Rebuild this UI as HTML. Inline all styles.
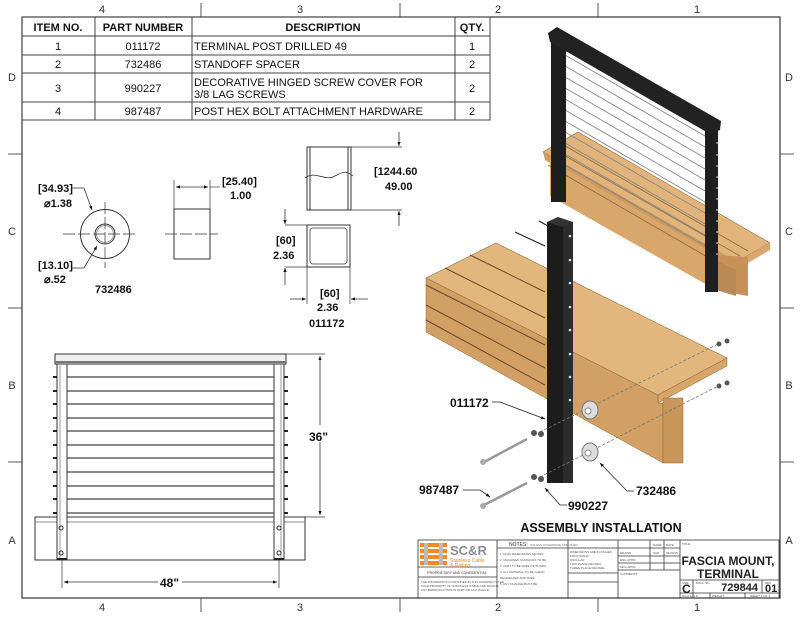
<!DOCTYPE html>
<html><head><meta charset="utf-8"><style>
html,body{margin:0;padding:0;background:#fff;}
svg{display:block;font-family:"Liberation Sans",Arial,sans-serif;}
</style></head><body>
<svg width="800" height="618" viewBox="0 0 800 618" xmlns="http://www.w3.org/2000/svg">
<defs>
<marker id="ar" viewBox="0 0 10 10" refX="10" refY="5" markerWidth="7" markerHeight="5" orient="auto-start-reverse"><path d="M0,1 L10,5 L0,9 z" fill="#111"/></marker>
</defs>
<rect width="800" height="618" fill="#fff"/>
<rect x="22" y="17" width="758" height="581" fill="none" stroke="#333" stroke-width="1.2"/>
<g stroke="#555" stroke-width="1">
<line x1="201" y1="3" x2="201" y2="17"/><line x1="400" y1="3" x2="400" y2="17"/><line x1="598" y1="3" x2="598" y2="17"/>
<line x1="201" y1="598" x2="201" y2="612"/><line x1="400" y1="598" x2="400" y2="612"/><line x1="598" y1="598" x2="598" y2="612"/>
<line x1="8" y1="154" x2="22" y2="154"/><line x1="8" y1="308" x2="22" y2="308"/><line x1="8" y1="462" x2="22" y2="462"/>
<line x1="780" y1="154" x2="794" y2="154"/><line x1="780" y1="308" x2="794" y2="308"/><line x1="780" y1="462" x2="794" y2="462"/>
</g>
<g font-size="11" fill="#333" text-anchor="middle">
<text x="102" y="13">4</text><text x="300" y="13">3</text><text x="498" y="13">2</text><text x="697" y="13">1</text>
<text x="102" y="611">4</text><text x="300" y="611">3</text><text x="498" y="611">2</text><text x="697" y="611">1</text>
<text x="12" y="81">D</text><text x="12" y="235">C</text><text x="12" y="389">B</text><text x="12" y="544">A</text>
<text x="789" y="81">D</text><text x="789" y="235">C</text><text x="789" y="389">B</text><text x="789" y="544">A</text>
</g>
<g stroke="#444" stroke-width="1" fill="none">
<rect x="22" y="17" width="468" height="103"/>
<line x1="22" y1="36" x2="490" y2="36"/><line x1="22" y1="55" x2="490" y2="55"/><line x1="22" y1="73" x2="490" y2="73"/><line x1="22" y1="102" x2="490" y2="102"/>
<line x1="95" y1="17" x2="95" y2="120"/><line x1="192" y1="17" x2="192" y2="120"/><line x1="455" y1="17" x2="455" y2="120"/>
</g>
<g font-size="11" fill="#111">
<g font-weight="bold" text-anchor="middle"><text x="58" y="31">ITEM NO.</text><text x="143" y="31">PART NUMBER</text><text x="323" y="31">DESCRIPTION</text><text x="472" y="31">QTY.</text></g>
<g text-anchor="middle"><text x="58" y="50">1</text><text x="143" y="50">011172</text><text x="472" y="50">1</text>
<text x="58" y="68">2</text><text x="143" y="68">732486</text><text x="472" y="68">2</text>
<text x="58" y="92">3</text><text x="143" y="92">990227</text><text x="472" y="92">2</text>
<text x="58" y="115">4</text><text x="143" y="115">987487</text><text x="472" y="115">2</text></g>
<text x="194" y="50">TERMINAL POST DRILLED 49</text><text x="194" y="68">STANDOFF SPACER</text>
<text x="194" y="86">DECORATIVE HINGED SCREW COVER FOR</text><text x="194" y="98">3/8 LAG SCREWS</text>
<text x="194" y="115">POST HEX BOLT ATTACHMENT HARDWARE</text>
</g>
<g stroke="#333" fill="none" stroke-width="1">
<circle cx="105" cy="234" r="24.5"/><circle cx="105" cy="234" r="10"/><circle cx="105" cy="234" r="8.5" stroke="#999"/>
<line x1="63" y1="234" x2="137" y2="234" stroke-dasharray="12,3" stroke-width=".7"/><line x1="105" y1="202" x2="105" y2="268" stroke-dasharray="12,3" stroke-width=".7"/>
<polyline points="72,188 84,188 92,210" marker-end="url(#ar)" stroke-width=".8"/>
<polyline points="72,268 84,268 97,246" marker-end="url(#ar)" stroke-width=".8"/>
<rect x="174" y="209" width="36" height="50"/>
<line x1="165" y1="234" x2="218" y2="234" stroke-dasharray="12,3" stroke-width=".7"/>
<line x1="174" y1="180" x2="174" y2="209" stroke-width=".7"/><line x1="210" y1="180" x2="210" y2="209" stroke-width=".7"/>
<line x1="176" y1="187" x2="208" y2="187" marker-start="url(#ar)" marker-end="url(#ar)" stroke-width=".8"/>
<line x1="210" y1="187" x2="220" y2="187" stroke-width=".7"/>
<rect x="307" y="147" width="44" height="63"/>
<line x1="310" y1="147" x2="310" y2="210"/><line x1="348" y1="147" x2="348" y2="210"/>
<path d="M305,178 C315,170 325,182 335,176 S348,172 353,176" stroke-width=".8"/>
<line x1="351" y1="147" x2="402" y2="147" stroke-width=".7"/><line x1="351" y1="210" x2="402" y2="210" stroke-width=".7"/>
<line x1="399" y1="132" x2="399" y2="146" marker-end="url(#ar)" stroke-width=".8"/>
<line x1="399" y1="226" x2="399" y2="211" marker-end="url(#ar)" stroke-width=".8"/>
<rect x="307" y="225" width="43" height="42"/>
<rect x="310" y="228" width="37" height="36" rx="3" stroke="#666"/>
<line x1="285" y1="225" x2="307" y2="225" stroke-width=".7"/><line x1="285" y1="267" x2="307" y2="267" stroke-width=".7"/>
<line x1="285" y1="209" x2="285" y2="224" marker-end="url(#ar)" stroke-width=".8"/>
<line x1="285" y1="285" x2="285" y2="268" marker-end="url(#ar)" stroke-width=".8"/>
<line x1="307" y1="267" x2="307" y2="304" stroke-width=".7"/><line x1="350" y1="267" x2="350" y2="304" stroke-width=".7"/>
<line x1="290" y1="299" x2="306" y2="299" marker-end="url(#ar)" stroke-width=".8"/>
<line x1="368" y1="299" x2="351" y2="299" marker-end="url(#ar)" stroke-width=".8"/>
</g>
<g font-size="11" font-weight="bold" fill="#111">
<text x="38" y="192">[34.93]</text><text x="44" y="207">⌀1.38</text>
<text x="38" y="269">[13.10]</text><text x="44" y="283">⌀.52</text>
<text x="95" y="293">732486</text>
<text x="222" y="185">[25.40]</text><text x="230" y="199">1.00</text>
<text x="374" y="175">[1244.60</text><text x="385" y="190">49.00</text>
<text x="276" y="244">[60]</text><text x="273" y="259">2.36</text>
<text x="320" y="297">[60]</text><text x="317" y="311">2.36</text><text x="309" y="327">011172</text>
</g>
<g stroke="#333" fill="none" stroke-width="1">
<rect x="35" y="517" width="270" height="43"/><line x1="35" y1="522" x2="305" y2="522" stroke="#888"/>
<rect x="55" y="354" width="231" height="10" fill="#eee"/><line x1="55" y1="362" x2="286" y2="362" stroke-width="2" stroke="#777"/>
<rect x="57" y="364" width="10" height="196" fill="#fff"/><rect x="274" y="364" width="10" height="196" fill="#fff"/>
<line x1="60" y1="364" x2="60" y2="560" stroke="#999"/><line x1="281" y1="364" x2="281" y2="560" stroke="#999"/>
<g stroke-width="1.2" stroke="#444">
<line x1="67" y1="377" x2="274" y2="377"/><line x1="67" y1="391" x2="274" y2="391"/><line x1="67" y1="404" x2="274" y2="404"/><line x1="67" y1="418" x2="274" y2="418"/><line x1="67" y1="431" x2="274" y2="431"/><line x1="67" y1="445" x2="274" y2="445"/><line x1="67" y1="458" x2="274" y2="458"/><line x1="67" y1="472" x2="274" y2="472"/><line x1="67" y1="486" x2="274" y2="486"/><line x1="67" y1="499" x2="274" y2="499"/><line x1="67" y1="513" x2="274" y2="513"/>
</g>
<g stroke-width="2" stroke="#222">
<path d="M53,377h4M53,391h4M53,404h4M53,418h4M53,431h4M53,445h4M53,458h4M53,472h4M53,486h4M53,499h4M53,513h4"/>
<path d="M284,377h4M284,391h4M284,404h4M284,418h4M284,431h4M284,445h4M284,458h4M284,472h4M284,486h4M284,499h4M284,513h4"/>
<path d="M57,559h10M274,559h10"/>
</g>
<circle cx="61" cy="528" r="2"/><circle cx="61" cy="553" r="2"/><circle cx="279" cy="528" r="2"/><circle cx="279" cy="553" r="2"/>
<line x1="286" y1="354" x2="325" y2="354" stroke-width=".7"/><line x1="305" y1="517" x2="325" y2="517" stroke-width=".7"/>
<line x1="320" y1="356" x2="320" y2="425" marker-start="url(#ar)" stroke-width=".8"/>
<line x1="320" y1="442" x2="320" y2="515" marker-end="url(#ar)" stroke-width=".8"/>
<line x1="62" y1="560" x2="62" y2="588" stroke-width=".7"/><line x1="279" y1="560" x2="279" y2="588" stroke-width=".7"/>
<line x1="64" y1="582" x2="158" y2="582" marker-start="url(#ar)" stroke-width=".8"/>
<line x1="182" y1="582" x2="277" y2="582" marker-end="url(#ar)" stroke-width=".8"/>
</g>
<g font-size="12" font-weight="bold" fill="#111"><text x="309" y="441">36"</text><text x="160" y="587">48"</text></g>

<polygon points="543,152 578,132 770,243 736,262" fill="#e2b47c" stroke="#8a6a40" stroke-width=".6"/>
<polygon points="543,152 736,262 736,270 545,160" fill="#cf9c60"/>
<polygon points="736,262 770,243 770,250 736,270" fill="#d8a86c"/>
<polygon points="550,160 716,255 716,290 550,196" fill="#d9a66b"/>
<polygon points="716,255 748,257 748,296 716,290" fill="#c69258"/>
<polygon points="716,260 736,270 736,296 716,290" fill="#b98a55"/>
<g stroke="#8a6a40" stroke-width=".8"><line x1="555" y1="150" x2="740" y2="256"/><line x1="562" y1="144" x2="748" y2="251"/><line x1="548" y1="165" x2="716" y2="262"/></g>
<g stroke="#888" stroke-width=".9">
<line x1="565" y1="55" x2="705" y2="136"/><line x1="565" y1="66" x2="705" y2="147"/><line x1="565" y1="77" x2="705" y2="158"/><line x1="565" y1="88" x2="705" y2="169"/><line x1="565" y1="99" x2="705" y2="180"/><line x1="565" y1="110" x2="705" y2="191"/><line x1="565" y1="121" x2="705" y2="202"/><line x1="565" y1="132" x2="705" y2="213"/><line x1="565" y1="143" x2="705" y2="224"/><line x1="565" y1="154" x2="705" y2="235"/><line x1="565" y1="165" x2="705" y2="246"/>
</g>
<rect x="551" y="38" width="15" height="164" fill="#1e1e1e"/>
<rect x="705" y="126" width="13" height="166" fill="#1e1e1e"/>
<polygon points="548,33 557,27 721,121 720,130 710,134 550,42" fill="#222"/>
<g fill="#bbb"><circle cx="717" cy="143" r=".9"/><circle cx="717" cy="155" r=".9"/><circle cx="717" cy="166" r=".9"/><circle cx="717" cy="177" r=".9"/><circle cx="717" cy="188" r=".9"/><circle cx="717" cy="199" r=".9"/><circle cx="717" cy="210" r=".9"/><circle cx="717" cy="221" r=".9"/><circle cx="717" cy="232" r=".9"/><circle cx="717" cy="243" r=".9"/><circle cx="717" cy="254" r=".9"/></g>

<polygon points="426,278 496,243 727,358 658,395" fill="#e3b67e" stroke="#8a6a40" stroke-width=".6"/>
<polygon points="658,395 727,358 727,366 658,403" fill="#d7a569" stroke="#8a6a40" stroke-width=".5"/>
<polygon points="426,278 658,395 658,403 663,403 663,463 426,332" fill="#d2a064" stroke="#8a6a40" stroke-width=".5"/>
<polygon points="663,398 683,398 683,463 663,463" fill="#c9965a" stroke="#8a6a40" stroke-width=".5"/>
<g stroke="#6b4a28" stroke-width="1"><line x1="470" y1="255" x2="545" y2="292"/><line x1="445" y1="268" x2="545" y2="318"/><line x1="426" y1="285" x2="545" y2="345"/><line x1="426" y1="305" x2="545" y2="368"/><line x1="426" y1="320" x2="545" y2="385"/></g>
<g stroke="#222" stroke-width="1.2"><line x1="515" y1="232" x2="545" y2="246"/><line x1="539" y1="221" x2="548" y2="226"/></g>
<rect x="547" y="222" width="26" height="261" fill="#1c1c1c"/>
<rect x="563" y="222" width="10" height="261" fill="#2c2c2c"/>
<polygon points="547,222 558,217 573,222 562,227" fill="#333"/>
<g fill="#ddd"><circle cx="570" cy="236" r="1.3"/><circle cx="570" cy="260" r="1.3"/><circle cx="570" cy="283" r="1.3"/><circle cx="570" cy="307" r="1.3"/><circle cx="570" cy="330" r="1.3"/><circle cx="570" cy="354" r="1.3"/><circle cx="570" cy="377" r="1.3"/><circle cx="570" cy="400" r="1.3"/></g>
<g stroke="#777" stroke-width=".8" stroke-dasharray="3,2"><line x1="540" y1="432" x2="720" y2="343"/><line x1="540" y1="477" x2="720" y2="385"/></g>
<g fill="#ddd" stroke="#777"><ellipse cx="590" cy="410" rx="8" ry="9"/><ellipse cx="590" cy="452" rx="8" ry="9"/></g>
<g fill="#fff" stroke="#888"><circle cx="588" cy="411" r="3"/><circle cx="588" cy="453" r="3"/></g>
<g fill="#555"><circle cx="719" cy="344" r="2.5"/><circle cx="727" cy="341" r="2.5"/><circle cx="719" cy="386" r="2.5"/><circle cx="727" cy="383" r="2.5"/><circle cx="534" cy="433" r="3"/><circle cx="541" cy="434" r="3"/><circle cx="534" cy="477" r="3"/><circle cx="541" cy="479" r="3"/></g>
<g stroke="#999" stroke-width="2.5"><line x1="484" y1="462" x2="527" y2="439"/><line x1="484" y1="505" x2="527" y2="483"/></g>
<g fill="#aaa"><circle cx="483" cy="462" r="3"/><circle cx="483" cy="506" r="3"/></g>
<g stroke="#222" fill="none" stroke-width=".8">
<path d="M492,402 L500,402 L545,419" marker-end="url(#ar)"/>
<path d="M463,490 L480,490 L490,497" marker-end="url(#ar)"/>
<path d="M567,505 L560,505 L545,488" marker-end="url(#ar)"/>
<path d="M634,491 L627,491 L600,463" marker-end="url(#ar)"/>
</g>
<g font-size="12" font-weight="bold" fill="#111">
<text x="450" y="407">011172</text><text x="419" y="494">987487</text><text x="568" y="510">990227</text><text x="636" y="495">732486</text>
<text x="601" y="532" text-anchor="middle" font-size="12.5">ASSEMBLY INSTALLATION</text>
</g>

<g stroke="#333" fill="none" stroke-width=".8">
<rect x="418" y="540" width="361" height="58"/>
<line x1="497" y1="540" x2="497" y2="598"/><line x1="568" y1="540" x2="568" y2="598"/><line x1="618" y1="540" x2="618" y2="598"/><line x1="680" y1="540" x2="680" y2="598"/>
<line x1="418" y1="567" x2="497" y2="567"/><line x1="418" y1="577" x2="497" y2="577"/>
<line x1="497" y1="548" x2="618" y2="548"/><line x1="568" y1="573" x2="618" y2="573"/><line x1="568" y1="582" x2="618" y2="582"/>
<line x1="618" y1="548" x2="680" y2="548"/><line x1="618" y1="556" x2="680" y2="556"/><line x1="618" y1="563" x2="680" y2="563"/><line x1="618" y1="570" x2="680" y2="570"/>
<line x1="650" y1="540" x2="650" y2="570"/><line x1="664" y1="540" x2="664" y2="570"/>
<line x1="680" y1="580" x2="779" y2="580"/><line x1="680" y1="593" x2="779" y2="593"/>
<line x1="693" y1="580" x2="693" y2="598"/><line x1="762" y1="580" x2="762" y2="593"/>
<line x1="710" y1="593" x2="710" y2="598"/><line x1="745" y1="593" x2="745" y2="598"/>
</g>
<g fill="#f08a24"><rect x="420" y="543" width="27" height="4"/><rect x="420" y="549" width="27" height="4"/><rect x="420" y="555" width="27" height="4"/><rect x="420" y="561" width="27" height="4"/></g>
<g fill="#bbb"><rect x="424" y="543" width="4" height="22"/><rect x="439" y="543" width="4" height="22"/></g>
<text x="450" y="555" font-size="13" font-weight="bold" fill="#8a8f96">SC&amp;R</text>
<text x="450" y="562" font-size="5" fill="#f08a24">Stainless Cable</text>
<text x="450" y="567" font-size="5" fill="#f08a24">&amp; Railing</text>
<text x="457" y="574" font-size="3.5" text-anchor="middle" fill="#333">PROPRIETARY AND CONFIDENTIAL</text>
<g font-size="3" fill="#555"><text x="421" y="583">THE INFORMATION CONTAINED IN THIS DRAWING IS THE</text><text x="421" y="587">SOLE PROPERTY OF STAINLESS CABLE AND RAILING</text><text x="421" y="591">ANY REPRODUCTION IN PART OR AS A WHOLE</text></g>
<text x="509" y="546" font-size="5" fill="#333">NOTES:</text><text x="530" y="546" font-size="3" fill="#777">UNLESS OTHERWISE SPECIFIED</text>
<g font-size="3" fill="#555"><text x="500" y="555">1. DUAL DIMENSIONS SHOWN</text><text x="500" y="561">2. MACHINED SURFACES TO BE</text><text x="500" y="567">3. PART TO BE FREE OF BURRS</text><text x="500" y="573">4. ALL MATERIAL TO BE CLEAN</text><text x="500" y="579">DEGREASED AND FREE</text><text x="500" y="585">5. ANY CHANGE MUST BE</text>
<text x="570" y="553">DIMENSIONS ARE IN INCHES</text><text x="570" y="557">FRACTIONAL</text><text x="570" y="561">ANGULAR</text><text x="570" y="565">TWO PLACE DECIMAL</text><text x="570" y="569">THREE PLACE DECIMAL</text>
<text x="620" y="554">DRAWN</text><text x="620" y="561">ENG APPR.</text><text x="620" y="568">MFG APPR.</text><text x="620" y="575">COMMENTS:</text>
<text x="653" y="546">NAME</text><text x="666" y="546">DATE</text><text x="653" y="554">SCR</text><text x="666" y="554">03/20/18</text>
<text x="682" y="545">TITLE:</text><text x="682" y="584">SIZE</text><text x="696" y="584">DWG. NO.</text><text x="765" y="584">REV</text>
<text x="682" y="597">SCALE: 1:8</text><text x="712" y="597">WEIGHT:</text><text x="750" y="597">SHEET 1 OF 1</text></g>
<g font-weight="bold" fill="#222">
<text x="728" y="565" font-size="12" text-anchor="middle">FASCIA MOUNT,</text>
<text x="728" y="578" font-size="12" text-anchor="middle">TERMINAL</text>
<text x="682" y="593" font-size="12">C</text>
<text x="758" y="591" font-size="11" text-anchor="end">729844</text>
<text x="765" y="592" font-size="11">01</text>
</g>
</svg>
</body></html>
